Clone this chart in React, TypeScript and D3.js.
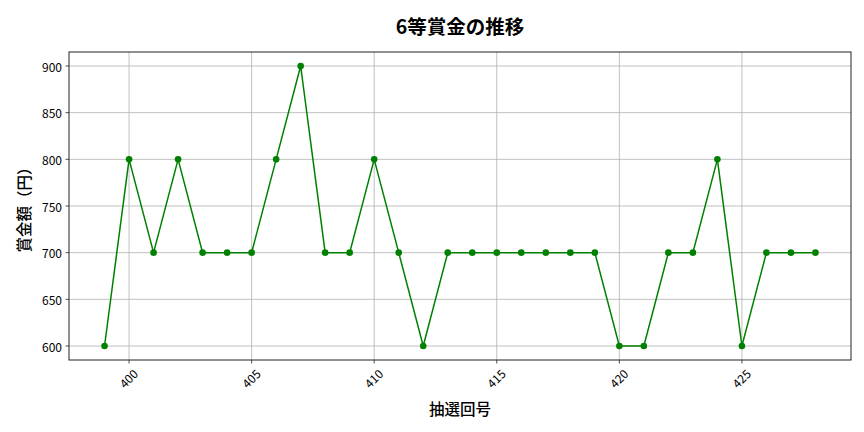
import React from "react";
import * as d3 from "d3";

const draws = [399,400,401,402,403,404,405,406,407,408,409,410,411,412,413,414,415,416,417,418,419,420,421,422,423,424,425,426,427,428];
const prizes = [600,800,700,800,700,700,700,800,900,700,700,800,700,600,700,700,700,700,700,700,700,600,600,700,700,800,600,700,700,700];
const xTicks = [400,405,410,415,420,425];
const yTicks = [600,650,700,750,800,850,900];
const title = "6等賞金の推移";
const xLabel = "抽選回号";
const yLabel = "賞金額（円）";

const W = 864, H = 432;
const M = { left: 69, right: 851, top: 52, bottom: 360 };
const font = "'Noto Sans CJK JP', 'Noto Sans', sans-serif";

export default function App() {
  const x = d3.scaleLinear().domain([397.55, 429.45]).range([M.left, M.right]);
  const y = d3.scaleLinear().domain([585, 915]).range([M.bottom, M.top]);
  const line = d3.line<number>().x((_, i) => x(draws[i])).y((d) => y(d));
  return (
    <svg width={W} height={H} style={{ position: "absolute", left: 0, top: 0, background: "#fff" }} fontFamily={font}>
      <rect x={0} y={0} width={W} height={H} fill="#fff" />
      {xTicks.map((t) => (
        <line key={"gx" + t} x1={x(t)} x2={x(t)} y1={M.top} y2={M.bottom} stroke="#b0b0b0" strokeWidth={0.8} />
      ))}
      {yTicks.map((t) => (
        <line key={"gy" + t} x1={M.left} x2={M.right} y1={y(t)} y2={y(t)} stroke="#b0b0b0" strokeWidth={0.8} />
      ))}
      <path d={line(prizes) || ""} fill="none" stroke="#008000" strokeWidth={1.5} />
      {prizes.map((v, i) => (
        <circle key={i} cx={x(draws[i])} cy={y(v)} r={3.3} fill="#008000" />
      ))}
      <rect x={M.left} y={M.top} width={M.right - M.left} height={M.bottom - M.top} fill="none" stroke="#222" strokeWidth={1} />
      {xTicks.map((t) => (
        <g key={"tx" + t}>
          <line x1={x(t)} x2={x(t)} y1={M.bottom} y2={M.bottom + 3.5} stroke="#222" strokeWidth={0.8} />
          <text
            transform={`translate(${x(t) - 1},${M.bottom + 18}) rotate(-45)`}
            textAnchor="middle"
            dominantBaseline="central"
            fontSize={12}
            fill="#000"
          >
            {t}
          </text>
        </g>
      ))}
      {yTicks.map((t) => (
        <g key={"ty" + t}>
          <line x1={M.left - 3.5} x2={M.left} y1={y(t)} y2={y(t)} stroke="#222" strokeWidth={0.8} />
          <text x={M.left - 7} y={y(t)} textAnchor="end" dominantBaseline="central" fontSize={12} fill="#000">
            {t}
          </text>
        </g>
      ))}
      <text x={(M.left + M.right) / 2} y={25} textAnchor="middle" dominantBaseline="central" fontSize={19.5} fontWeight="bold" fill="#000">
        {title}
      </text>
      <text x={(M.left + M.right) / 2} y={408} textAnchor="middle" dominantBaseline="central" fontSize={15.5} fontWeight={500} fill="#000">
        {xLabel}
      </text>
      <text transform={`translate(23,${(M.top + M.bottom) / 2}) rotate(-90)`} textAnchor="middle" dominantBaseline="central" fontSize={15.5} fontWeight={500} fill="#000">
        {yLabel}
      </text>
    </svg>
  );
}
